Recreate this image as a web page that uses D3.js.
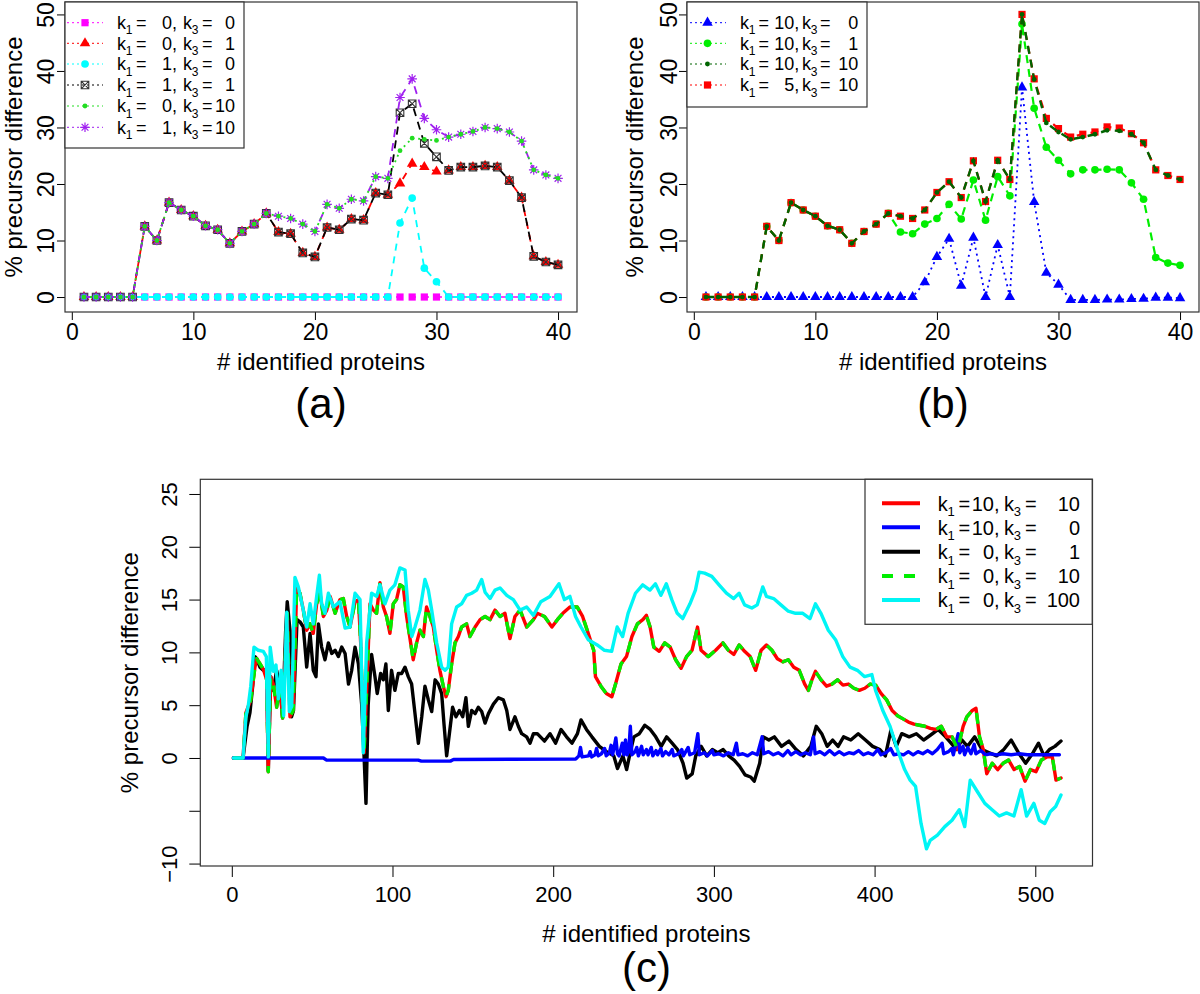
<!DOCTYPE html>
<html><head><meta charset="utf-8">
<script src="https://cdn.jsdelivr.net/npm/d3@7"></script>
<style>
body{margin:0;background:#fff}
svg{display:block}
text{font-family:"Liberation Sans",Arial,Helvetica,sans-serif;fill:#000}
</style>
</head><body>
<svg id="chart" width="1200" height="994"></svg>
<script>
// ---------------- DATA ----------------
// panels (a) and (b): x = # identified proteins
const proteinsAB = [1,2,3,4,5,6,7,8,9,10,11,12,13,14,15,16,17,18,19,20,21,22,23,24,25,26,27,28,29,30,31,32,33,34,35,36,37,38,39,40];
const ticksAB_x = [0,10,20,30,40];
const ticksAB_y = [0,10,20,30,40,50];

// panel (a)
const a_k1_0_k3_0  = [0,0,0,0,0,0,0,0,0,0,0,0,0,0,0,0,0,0,0,0,0,0,0,0,0,0,0,0,0,0,0,0,0,0,0,0,0,0,0,0];
const a_k1_0_k3_1  = [0,0,0,0,0,12.5,10,16.7,15.4,14.3,12.6,11.9,9.5,11.6,12.9,14.8,11.5,11.2,7.8,7.1,12.3,11.9,13.8,13.6,18.4,18.1,20.1,23.6,23.0,22.2,22.4,23.0,23.0,23.2,23.0,20.6,17.6,7.2,6.2,5.7];
const a_k1_1_k3_0  = [0,0,0,0,0,0,0,0,0,0,0,0,0,0,0,0,0,0,0,0,0,0,0,0,0,0,13.1,17.5,5.1,2.7,0,0,0,0,0,0,0,0,0,0];
const a_k1_1_k3_1  = [0,0,0,0,0,12.5,10,16.7,15.4,14.3,12.6,11.9,9.5,11.6,12.9,14.8,11.5,11.2,7.8,7.1,12.3,11.9,13.8,13.6,18.4,18.1,32.6,34.2,27.2,24.8,22.4,23.0,23.0,23.2,23.0,20.6,17.6,7.2,6.2,5.7];
const a_k1_0_k3_10 = [0,0,0,0,0,12.5,10,16.7,15.4,14.3,12.6,11.9,9.5,11.6,12.9,14.8,14.3,13.9,12.9,11.6,16.4,15.7,17.3,17.0,21.3,21.0,25.9,28.1,27.9,27.7,28.3,28.8,29.3,30.0,29.8,29.2,27.6,22.5,21.6,21.0];
const a_k1_1_k3_10 = [0,0,0,0,0,12.5,10,16.7,15.4,14.3,12.6,11.9,9.5,11.6,12.9,14.8,14.3,13.9,12.9,11.6,16.4,15.7,17.3,17.0,21.3,21.0,35.3,38.6,31.6,29.6,28.3,28.8,29.3,30.0,29.8,29.2,27.6,22.5,21.6,21.0];

// panel (b)
const b_k1_10_k3_0  = [0,0,0,0,0,0,0,0,0,0,0,0,0,0,0,0,0,0,2.6,7.1,10.3,2.0,10.5,0,9.2,0,37.1,16.8,4.3,2.2,-0.5,-0.5,-0.5,-0.45,-0.45,-0.35,-0.3,-0.1,-0.1,-0.2];
const b_k1_10_k3_1  = [0,0,0,0,0,12.5,10,16.7,15.4,14.3,12.6,11.9,9.5,11.6,12.9,14.8,11.5,11.2,12.9,13.9,16.4,13.8,20.7,13.6,21.3,17.9,48.3,33.4,26.5,24.2,21.8,22.5,22.5,22.6,22.5,20.2,17.3,7.0,6.0,5.6];
const b_k1_10_k3_10 = [0,0,0,0,0,12.5,10,16.7,15.4,14.3,12.6,11.9,9.5,11.6,12.9,14.8,14.3,13.9,15.4,18.5,20.4,17.6,24.1,16.9,24.2,20.8,50.0,38.5,30.8,29.2,27.9,28.3,28.8,29.5,29.4,28.8,27.3,22.5,21.5,20.8];
const b_k1_5_k3_10  = [0,0,0,0,0,12.5,10,16.7,15.4,14.3,12.6,11.9,9.5,11.6,12.9,14.8,14.3,13.9,15.4,18.5,20.4,17.6,24.1,16.9,24.2,20.8,50.0,38.6,31.6,29.8,28.3,28.8,29.2,30.1,29.9,28.9,27.3,22.5,21.5,20.8];

// panel (c): [# identified proteins, % precursor difference]
const ticksC_x = [0,100,200,300,400,500];
const ticksC_y = [-10,-5,0,5,10,15,20,25];

const c_k1_10_k3_10 = [[1,0],[7,0],[8.8,4.3],[11.8,5.5],[14.4,8.6],[15.5,9.4],[17.6,8.9],[19.6,8.4],[21.7,7.4],[22.7,-1.3],[24.2,7.7],[25.8,7.0],[27.9,4.8],[30,6.8],[31.6,3.8],[33.3,9.6],[34.5,13.7],[36.2,3.9],[38.2,4.5],[40.4,16.2],[42.4,15.6],[44.5,14],[46.6,12.1],[48.7,12.7],[50.7,11.8],[52.8,14.6],[54.9,15.6],[57,13.4],[59.1,14],[61.2,15.3],[64.3,13.7],[67.3,15],[69.4,15.1],[71.5,13.4],[73.6,12.4],[76.7,14.8],[78.8,15],[80.2,10.9],[81.4,4.5],[82.3,0.5],[83.9,6.4],[86,14.6],[88.1,14],[90.1,13.7],[92.2,16.6],[94.3,14.3],[96.3,13.4],[98.4,11.8],[100.5,14.6],[102.5,15],[104.6,16.4],[106.7,16.2],[108.8,13.4],[111.3,10.9],[112.9,9.3],[115,10.9],[117.1,12.1],[119.2,11.5],[121.2,14.3],[123.3,13.4],[125.4,12.4],[127.5,10.2],[129.5,8.3],[131.6,6.8],[133.3,5.8],[134.7,6.4],[136.8,8.9],[138.9,10.9],[141,11.5],[143,12.4],[146.1,12.7],[148.2,11.5],[151.4,12.4],[154.5,13.1],[157.6,13.4],[160.7,13.1],[163.8,14],[166.9,13.4],[170,13.7],[173.1,11.3],[176.2,13.4],[179.4,14],[183.5,12.4],[187.7,13.1],[190.1,13.7],[194.6,13.4],[199.2,12.4],[202.6,13.1],[206,13.7],[210.4,14.3],[214.9,14.3],[218.3,13.4],[221.8,11.8],[225.2,10.2],[226.3,7.7],[229.7,6.8],[233.1,6.1],[236.5,5.8],[238.8,7.0],[242.2,8.9],[245.6,9.6],[249,11.5],[252.4,12.7],[255.8,13.1],[258,13.5],[260.3,12.4],[262.6,10.5],[266,10.1],[269.4,10.9],[272.8,10.5],[276.2,9.3],[279.6,8.5],[283,9.6],[286.4,10.2],[289.8,12.4],[292,10.2],[296.5,9.6],[301.1,10.2],[305.6,10.9],[309,10.2],[312.4,9.8],[315.7,10.7],[319.1,10.1],[322.6,9.6],[326,8.3],[329.4,10.2],[332.7,10.7],[336.1,10.2],[339.5,9.4],[342.9,9.1],[346.3,9.3],[349.7,8.6],[353.1,8.3],[356.5,7.0],[358.8,6.4],[361,7.4],[363.2,8.2],[366.7,7.4],[370.1,6.8],[373.5,7.0],[376.9,7.4],[380.3,6.9],[383.7,7.0],[387.1,6.6],[390.5,6.4],[393.9,6.6],[397.3,7.0],[400.7,6.9],[404.1,6.1],[407.5,5.5],[410.9,4.5],[414.3,4.0],[417.7,3.7],[421.1,3.4],[424.5,3.2],[427.9,3.1],[431.3,3.0],[434.7,2.8],[438.1,2.7],[441.5,3.0],[444.9,2.0],[448.3,2.0],[451.7,0.8],[455.1,3.0],[457.4,3.9],[460.8,4.5],[463.1,4.7],[465.3,2.0],[467.6,0.8],[469.8,-1.5],[473.2,-0.5],[476.6,-1.1],[480,-0.5],[483.4,-0.2],[486.8,-1.1],[490.2,-0.8],[493.6,-2.2],[497,-1.1],[500.4,-1.3],[503.8,-0.2],[507.2,0.1],[510.6,0.1],[512.9,-2.1],[516,-1.9]];

// k1 = 0, k3 = 10 coincides with k1 = 10, k3 = 10 at this resolution
const c_k1_0_k3_10 = c_k1_10_k3_10;

const c_k1_10_k3_0 = [[1,0],[57,0],[59,-0.2],[116,-0.2],[118,-0.3],[136,-0.3],[138,-0.15],[214,-0.1],[216,0.2],[217,1.0],[218,0.1],[222,0.2],[223,0.6],[224,0.1],[226,0.3],[227,0.9],[228,0.2],[230,0.4],[232,0.9],[233,0.2],[235,0.5],[236,1.2],[237,0.3],[239,1.9],[240,0.4],[241,0.2],[243,1.4],[244,0.3],[245,1.7],[246,0.3],[247,0.6],[248,3.0],[249,0.3],[251,0.6],[252,1.0],[253,0.2],[255,1.1],[256,0.3],[258,0.8],[259,0.3],[261,1.0],[262,0.2],[264,0.7],[265,0.3],[267,0.9],[268,0.2],[270,0.6],[272,0.3],[274,0.8],[275,0.2],[278,0.4],[280,0.8],[281,0.2],[284,1.0],[285,0.3],[288,0.5],[290,2.3],[291,0.3],[294,0.5],[296,0.2],[299,0.7],[300,0.3],[303,0.4],[306,0.2],[309,0.5],[312,0.3],[314,1.4],[315,0.3],[318,0.4],[321,0.2],[324,0.5],[327,0.3],[330,2.0],[331,0.4],[334,0.6],[337,0.3],[340,0.5],[343,0.2],[346,0.7],[348,0.3],[351,0.6],[354,0.3],[357,0.5],[360,0.3],[362,2.0],[363,0.4],[366,0.6],[369,0.3],[372,0.7],[375,0.3],[378,0.6],[381,0.3],[384,0.5],[387,0.4],[390,0.7],[393,0.3],[396,0.5],[399,0.3],[402,0.8],[404,0.3],[407,0.5],[410,0.9],[412,0.3],[415,0.4],[418,0.3],[421,0.6],[424,0.3],[427,0.6],[430,0.4],[433,0.7],[436,0.4],[439,0.8],[442,1.4],[443,0.4],[446,0.6],[448,0.9],[449,0.3],[452,2.3],[453,0.5],[455,1.1],[456,0.3],[458,1.0],[460,0.4],[462,1.3],[463,0.4],[466,0.7],[469,0.3],[472,0.4],[476,0.3],[480,0.4],[485,0.3],[490,0.4],[495,0.3],[500,0.3],[505,0.3],[510,0.3],[515,0.3]];

const c_k1_0_k3_1 = [[1,0],[7,0],[9.5,3.0],[11.3,4.3],[13,6.8],[14.4,9.6],[15.5,9.4],[17.5,8.6],[19.6,8.3],[21.7,8.4],[22.7,-1.2],[24.2,7.7],[25.8,6.4],[27.9,8.3],[30,6.8],[31.6,3.8],[33.5,12],[34.5,14.8],[36.2,12.1],[37.2,3.9],[38.4,4.5],[40.6,13.1],[42.4,12.9],[44.5,12.4],[46.6,8.6],[48.7,11.8],[50.7,8.3],[52.4,7.7],[53.9,12.7],[55.9,10.5],[58,9.3],[60.1,10.9],[62.2,9.9],[64.3,10.2],[66.3,9.6],[68.4,10.5],[70.5,9.9],[72.6,7.0],[74.6,8.3],[76.7,10.5],[78.8,8.9],[80.8,5.1],[82.3,0.2],[83.5,-4.3],[84.9,5.1],[87,9.8],[89.1,7.7],[90.5,6.1],[92.6,8.0],[94.3,7.4],[95.9,8.9],[97.4,4.5],[99.4,8.3],[101.5,6.4],[103.6,8.0],[105.7,8.0],[107.8,8.6],[109.8,7.7],[111.9,7.0],[114,4.2],[116.1,1.4],[118.2,3.9],[120.2,6.8],[122.3,5.5],[124.4,4.4],[126.5,7.4],[128.5,7.0],[130.6,6.1],[132,3.3],[133.7,0.2],[135.4,2.3],[137.4,4.8],[139.5,3.9],[141.6,4.5],[143.7,3.9],[145.7,5.7],[147.2,3.0],[149.3,4.5],[151.4,4.2],[153.4,4.8],[155.5,4.4],[157.6,3.3],[159.7,4.2],[162.8,5.1],[165.9,5.7],[169,5.5],[171.1,4.5],[173.1,2.7],[176.2,3.9],[178.3,3.0],[180.4,2.3],[183.5,2.0],[185.6,1.4],[187.7,2.3],[190.1,2.3],[194.6,1.6],[198,2.3],[201.5,1.4],[204.9,2.7],[208.3,2.0],[211.7,1.4],[215.1,2.3],[217.3,3.6],[220.7,2.7],[224.1,2.0],[228.7,1.1],[233.2,0.6],[237.7,0.2],[240,-1.0],[243.4,0.2],[245.7,-1.1],[247.9,0.5],[250.2,2.0],[253.6,2.3],[257,3.1],[260.4,2.7],[263.8,2.0],[267.2,1.1],[270.6,2.0],[274,1.4],[277.4,0.8],[280.8,-0.5],[283.1,-1.9],[286.5,-1.5],[288.7,0.2],[292.1,1.1],[295.5,0.2],[299,0.8],[302.4,0.5],[305.8,0.8],[309.2,0.2],[312.6,-0.2],[316,-0.8],[319.4,-1.6],[322.8,-1.8],[325.1,-2.2],[328.5,-0.5],[330.8,2.0],[334.2,1.7],[337.6,2.0],[342.1,1.1],[346.7,1.6],[351.2,0.8],[355.7,0.2],[360.3,1.1],[363.7,3.0],[367.1,2.3],[370.5,1.1],[373.9,1.7],[377.3,1.1],[380.7,2.0],[385.2,1.7],[389.8,2.3],[394.3,1.7],[398.8,1.1],[403.3,0.8],[406.7,0.2],[410.1,2.6],[413.5,1.1],[416.9,2.3],[421.5,2.0],[426,2.3],[430.5,1.7],[435.1,2.2],[439.6,2.7],[444.2,2.0],[447.6,1.4],[451,0.8],[454.4,1.7],[457.8,1.1],[462.3,2.0],[466.8,0.8],[471.4,0.5],[475.9,0.2],[480.4,0.8],[485,1.7],[489.5,0.5],[494,-0.5],[498.6,0.5],[502,1.4],[505.4,0.2],[508.8,0.8],[512.2,1.1],[516,1.6]];

const c_k1_0_k3_100 = [[1,0],[7,0],[8.8,3.9],[10.3,5.0],[11.8,6.8],[13.8,10.5],[16.5,10.2],[19.6,10.1],[21.5,9.6],[22.7,0.1],[23.9,10.5],[25.8,8.2],[27.5,8.8],[29,5.6],[30.7,8.3],[32.3,4.0],[34.2,13.8],[35.8,4.4],[37.3,4.9],[39.3,17.1],[41.4,16.2],[44.5,14],[46.6,12.4],[48.7,14.6],[50.7,12.7],[52.8,15.3],[54.5,17.3],[55.9,14.6],[58,13.7],[60.1,15.6],[63.2,14.3],[67.3,14.8],[70.5,12.3],[73.6,12.4],[76.7,15.6],[79.8,15.0],[81.8,0.5],[83.9,10.9],[87,15.6],[90.1,15.3],[92.2,16.4],[95.3,14.6],[98.4,15.9],[101.5,16.4],[104.6,18.0],[107.8,17.8],[109.8,14],[112,11.5],[114,12.4],[117.1,14],[120.2,16.9],[122.3,15.9],[124.4,14],[127.5,10.9],[130.6,8.6],[132.7,8.3],[134.7,8.6],[136.8,12.7],[139.9,14.3],[143,14.6],[146.1,15.4],[149.3,15.6],[152.4,15.9],[155.5,16.9],[157.6,15.7],[160.7,15.1],[163.8,15.9],[166.9,16.1],[171.1,15.4],[175.2,15],[179.4,14],[183.5,14.3],[187.7,13.5],[192.3,14.8],[198,15.3],[203.6,16.5],[207,15],[210.4,15.3],[213.9,13.4],[217.3,12.4],[221.8,11.2],[227.4,10.7],[231.9,10.2],[236.4,10.1],[239.8,12.4],[243.2,11.5],[246.6,13.7],[251.2,15.6],[255.7,16.4],[260.2,15.9],[263.6,16.5],[267,15.4],[270.4,16.5],[273.8,15],[277.2,13.7],[280.6,13.2],[285.1,14.6],[288.5,15.9],[290.8,17.6],[294.2,17.5],[298.7,17.2],[303.2,16.4],[307.8,15.6],[312.3,15.1],[315.7,15.6],[319.1,14.5],[323.6,14.2],[327,14.5],[330.4,16.2],[332.7,15.3],[337.2,15.1],[341.7,14.5],[346.3,13.9],[350.8,13.7],[355.3,13.7],[359.8,13.2],[363.2,14.6],[366.6,13.7],[371.2,12.1],[375.7,11.2],[380.2,9.6],[384.7,8.6],[389.3,8.3],[393.8,7.7],[398.3,7.9],[400.6,6.4],[405.1,4.5],[409.6,3.0],[414.2,0.8],[418.7,-1.1],[422.1,-2.1],[425.5,-2.7],[428.9,-6.2],[432.3,-8.6],[434.6,-7.8],[439.1,-7.3],[443.7,-6.5],[448.2,-5.9],[452.7,-4.9],[456.1,-6.5],[459.5,-2.1],[464,-3.2],[468.6,-4.3],[473.1,-4.9],[477.6,-5.5],[482.1,-5.2],[486.7,-5.5],[491.2,-3.0],[494.6,-5.5],[499.1,-4.3],[502.5,-5.9],[505.9,-6.2],[509.3,-5.1],[512.7,-4.6],[516,-3.5]];

// ---------------- DRAWING ----------------
const svg = d3.select("#chart");
const FONT_TICK = 23, FONT_LAB = 24, FONT_PANEL = 42;

const markerPaths = {
  square: d3.symbol(d3.symbolSquare, 52)(),
  triangle: d3.symbol(d3.symbolTriangle, 48)(),
  circle: d3.symbol(d3.symbolCircle, 46)(),
  dot: d3.symbol(d3.symbolCircle, 18)(),
  boxx: "M-3.8,-3.8H3.8V3.8H-3.8Z M-3.8,-3.8L3.8,3.8 M3.8,-3.8L-3.8,3.8",
  star: "M0,-4.8V4.8M-4.8,0H4.8M-3.4,-3.4L3.4,3.4M3.4,-3.4L-3.4,3.4"
};
function drawMarker(g, type, color, cx, cy) {
  const p = g.append("path").attr("d", markerPaths[type]).attr("transform", `translate(${cx},${cy})`);
  if (type === "boxx") p.attr("fill", "none").attr("stroke", "#333").attr("stroke-width", 1.1);
  else if (type === "star") p.attr("fill", "none").attr("stroke", color).attr("stroke-width", 1.2);
  else p.attr("fill", color);
}

function makePanel(box, xDom, yDom) {
  const x = d3.scaleLinear().domain(xDom).range([box.left, box.right]);
  const y = d3.scaleLinear().domain(yDom).range([box.bottom, box.top]);
  return {x, y, box};
}

function drawAxes(P, opt) {
  const {x, y, box} = P;
  const gx = svg.append("g").attr("transform", `translate(0,${box.bottom})`)
    .call(d3.axisBottom(x).tickValues(opt.xt).tickSize(opt.tick).tickSizeOuter(0).tickFormat(d3.format("d")));
  gx.select(".domain").remove();
  gx.selectAll(".tick line").attr("stroke", "#000");
  gx.selectAll(".tick text").attr("y", opt.xLabBase).attr("dy", null)
    .style("font-size", opt.tickFont + "px").attr("fill", "#000");
  const gy = svg.append("g").attr("transform", `translate(${box.left},0)`)
    .call(d3.axisLeft(y).tickValues(opt.yt).tickSize(opt.tick).tickSizeOuter(0)
      .tickFormat(d => (opt.hideY || []).includes(d) ? "" : (d < 0 ? "\u2212" + Math.abs(d) : String(d))));
  gy.select(".domain").remove();
  gy.selectAll(".tick line").attr("stroke", "#000");
  gy.selectAll(".tick text").attr("x", null).attr("dy", null)
    .attr("transform", `translate(${-opt.yLabOff},0) rotate(-90)`)
    .attr("text-anchor", "middle").style("font-size", opt.tickFont + "px").attr("fill", "#000");
  svg.append("rect").attr("x", box.left).attr("y", box.top)
    .attr("width", box.right - box.left).attr("height", box.bottom - box.top)
    .attr("fill", "none").attr("stroke", "#333").attr("stroke-width", 1.2);
  const cx = (box.left + box.right) / 2, cy = (box.top + box.bottom) / 2;
  svg.append("text").attr("x", cx).attr("y", opt.xTitleBase).attr("text-anchor", "middle")
    .style("font-size", FONT_LAB + "px").text("# identified proteins");
  svg.append("text").attr("transform", `translate(${opt.yTitleBase},${cy}) rotate(-90)`)
    .attr("text-anchor", "middle").style("font-size", FONT_LAB + "px").text("% precursor difference");
  svg.append("text").attr("x", cx).attr("y", opt.panelBase).attr("text-anchor", "middle")
    .style("font-size", FONT_PANEL + "px").text(opt.panel);
}

function drawSeriesAB(P, xs, ys, s) {
  const {x, y} = P;
  const line = d3.line().x((d, i) => x(xs[i])).y(d => y(d));
  const g = svg.append("g");
  g.append("path").attr("d", line(ys)).attr("fill", "none").attr("stroke", s.color)
    .attr("stroke-width", s.lw).attr("stroke-dasharray", s.dash);
  ys.forEach((v, i) => drawMarker(g, s.marker, s.color, x(xs[i]), y(v)));
}

// legend row with aligned "k1 = n1, k3 = n2" text
function legendRow(g, L, s, cy) {
  g.append("line").attr("x1", L.l1).attr("x2", L.l2).attr("y1", cy).attr("y2", cy)
    .attr("stroke", s.color).attr("stroke-width", L.lw || 1).attr("stroke-dasharray", L.dash ? L.dash(s) : "2,3");
  if (s.marker) drawMarker(g, s.marker, s.color, L.mx, cy);
  const fs = L.fs, sub = Math.round(fs * 0.64), base = cy + fs * 0.36;
  const t = (xx, str, anchor, size, dy) => g.append("text").attr("x", xx).attr("y", base + (dy || 0))
    .attr("text-anchor", anchor || "start").style("font-size", (size || fs) + "px").text(str);
  t(L.k1, "k"); t(L.k1 + fs * 0.49, "1", "start", sub, fs * 0.28);
  t(L.eq1, "="); t(L.n1, s.n1, "end"); t(L.n1, ",");
  t(L.k3, "k"); t(L.k3 + fs * 0.49, "3", "start", sub, fs * 0.28);
  t(L.eq2, "="); t(L.n2, s.n2, "end");
}

// ---- panel (a)
const PA = makePanel({left: 65, right: 577, top: 2, bottom: 312}, [-0.56, 41.56], [-2.65, 52.2]);
const axAB = {xt: ticksAB_x, yt: ticksAB_y, tick: 8, tickFont: FONT_TICK, xLabBase: 28, yLabOff: 11};
drawAxes(PA, {...axAB, xTitleBase: 370, yTitleBase: 22, panelBase: 418, panel: "(a)"});

const seriesA = [
  {ys: a_k1_0_k3_0,  color: "#ff00ff", marker: "square",   dash: "7,6", lw: 1.6, n1: "0", n2: "0"},
  {ys: a_k1_0_k3_1,  color: "#ff0000", marker: "triangle", dash: "7,6", lw: 1.8, n1: "0", n2: "1"},
  {ys: a_k1_1_k3_0,  color: "#00ffff", marker: "circle",   dash: "7,6", lw: 1.8, n1: "1", n2: "0"},
  {ys: a_k1_1_k3_1,  color: "#000000", marker: "boxx",     dash: "8,6", lw: 1.8, n1: "1", n2: "1"},
  {ys: a_k1_1_k3_10, color: "#a020f0", marker: "star",     dash: "8,6", lw: 1.8, n1: "1", n2: "10"},
  {ys: a_k1_0_k3_10, color: "#22dd22", marker: "dot",      dash: "2,4", lw: 1.8, n1: "0", n2: "10"}
];
seriesA.forEach(s => drawSeriesAB(PA, proteinsAB, s.ys, s));
{
  const g = svg.append("g");
  g.append("rect").attr("x", 65).attr("y", 2).attr("width", 179).attr("height", 146)
    .attr("fill", "#fff").attr("stroke", "#333").attr("stroke-width", 1.2);
  const L = {l1: 67, l2: 103, mx: 85, fs: 18, k1: 117, eq1: 136, n1: 172, k3: 183, eq2: 202, n2: 235};
  const order = [0, 1, 2, 3, 5, 4];
  const rows = [22.7, 43.3, 64, 85, 106, 127.3];
  order.forEach((k, i) => legendRow(g, L, seriesA[k], rows[i]));
}

// ---- panel (b)
const PB = makePanel({left: 687, right: 1199, top: 2, bottom: 312}, [-0.56, 41.56], [-2.65, 52.2]);
drawAxes(PB, {...axAB, yLabOff: 10.5, xTitleBase: 370, yTitleBase: 643, panelBase: 418, panel: "(b)"});
const seriesB = [
  {ys: b_k1_10_k3_0,  color: "#0000ff", marker: "triangle", dash: "2,4", lw: 1.8, n1: "10", n2: "0"},
  {ys: b_k1_10_k3_1,  color: "#00ee00", marker: "circle",   dash: "8,6", lw: 2.2, n1: "10", n2: "1"},
  {ys: b_k1_5_k3_10,  color: "#ff0000", marker: "square",   dash: "8,6", lw: 2.2, n1: "5",  n2: "10"},
  {ys: b_k1_10_k3_10, color: "#006400", marker: "dot",      dash: "8,6", lw: 2.4, n1: "10", n2: "10"}
];
seriesB.forEach(s => drawSeriesAB(PB, proteinsAB, s.ys, s));
{
  const g = svg.append("g");
  g.append("rect").attr("x", 687).attr("y", 2).attr("width", 180).attr("height", 105)
    .attr("fill", "#fff").attr("stroke", "#333").attr("stroke-width", 1.2);
  const L = {l1: 690, l2: 726, mx: 707.5, fs: 18, k1: 740, eq1: 758.5, n1: 794.3, k3: 802, eq2: 820, n2: 858.3};
  const order = [0, 1, 3, 2];
  const rows = [22.7, 43.3, 64, 85];
  order.forEach((k, i) => legendRow(g, L, seriesB[k], rows[i]));
}

// ---- panel (c)
const PC = makePanel({left: 200.3, right: 1092.5, top: 479.3, bottom: 866}, [-19.6, 535.6], [-10.23, 26.39]);
drawAxes(PC, {xt: ticksC_x, yt: ticksC_y, tick: 11, tickFont: 22, xLabBase: 36, yLabOff: 23.6,
  hideY: [-5], xTitleBase: 942, yTitleBase: 138, panelBase: 982, panel: "(c)"});
const seriesC = [
  {data: c_k1_0_k3_1,   color: "#000000", dash: null,    n1: "0",  n2: "1"},
  {data: c_k1_10_k3_10, color: "#ff0000", dash: null,    n1: "10", n2: "10"},
  {data: c_k1_10_k3_0,  color: "#0000ff", dash: null,    n1: "10", n2: "0"},
  {data: c_k1_0_k3_10,  color: "#00ee00", dash: "11,11", n1: "0",  n2: "10"},
  {data: c_k1_0_k3_100, color: "#00f5f5", dash: null,    n1: "0",  n2: "100"}
];
{
  const lineC = d3.line().x(d => PC.x(d[0])).y(d => PC.y(d[1]));
  seriesC.forEach(s => {
    svg.append("path").attr("d", lineC(s.data)).attr("fill", "none").attr("stroke", s.color)
      .attr("stroke-width", 3.4).attr("stroke-linejoin", "round")
      .attr("stroke-linecap", s.dash ? "butt" : "round").attr("stroke-dasharray", s.dash);
  });
  const g = svg.append("g");
  g.append("rect").attr("x", 865).attr("y", 479.3).attr("width", 227.2).attr("height", 145)
    .attr("fill", "#fff").attr("stroke", "#333").attr("stroke-width", 1.2);
  const L = {l1: 882, l2: 920, lw: 4, dash: s => s.dash, fs: 20, k1: 937.7, eq1: 958.5, n1: 994, k3: 1004, eq2: 1025, n2: 1080};
  const order = [1, 2, 0, 3, 4];
  const rows = [503.3, 527.3, 551.7, 576, 600];
  order.forEach((k, i) => legendRow(g, L, seriesC[k], rows[i]));
}
</script>
</body></html>
